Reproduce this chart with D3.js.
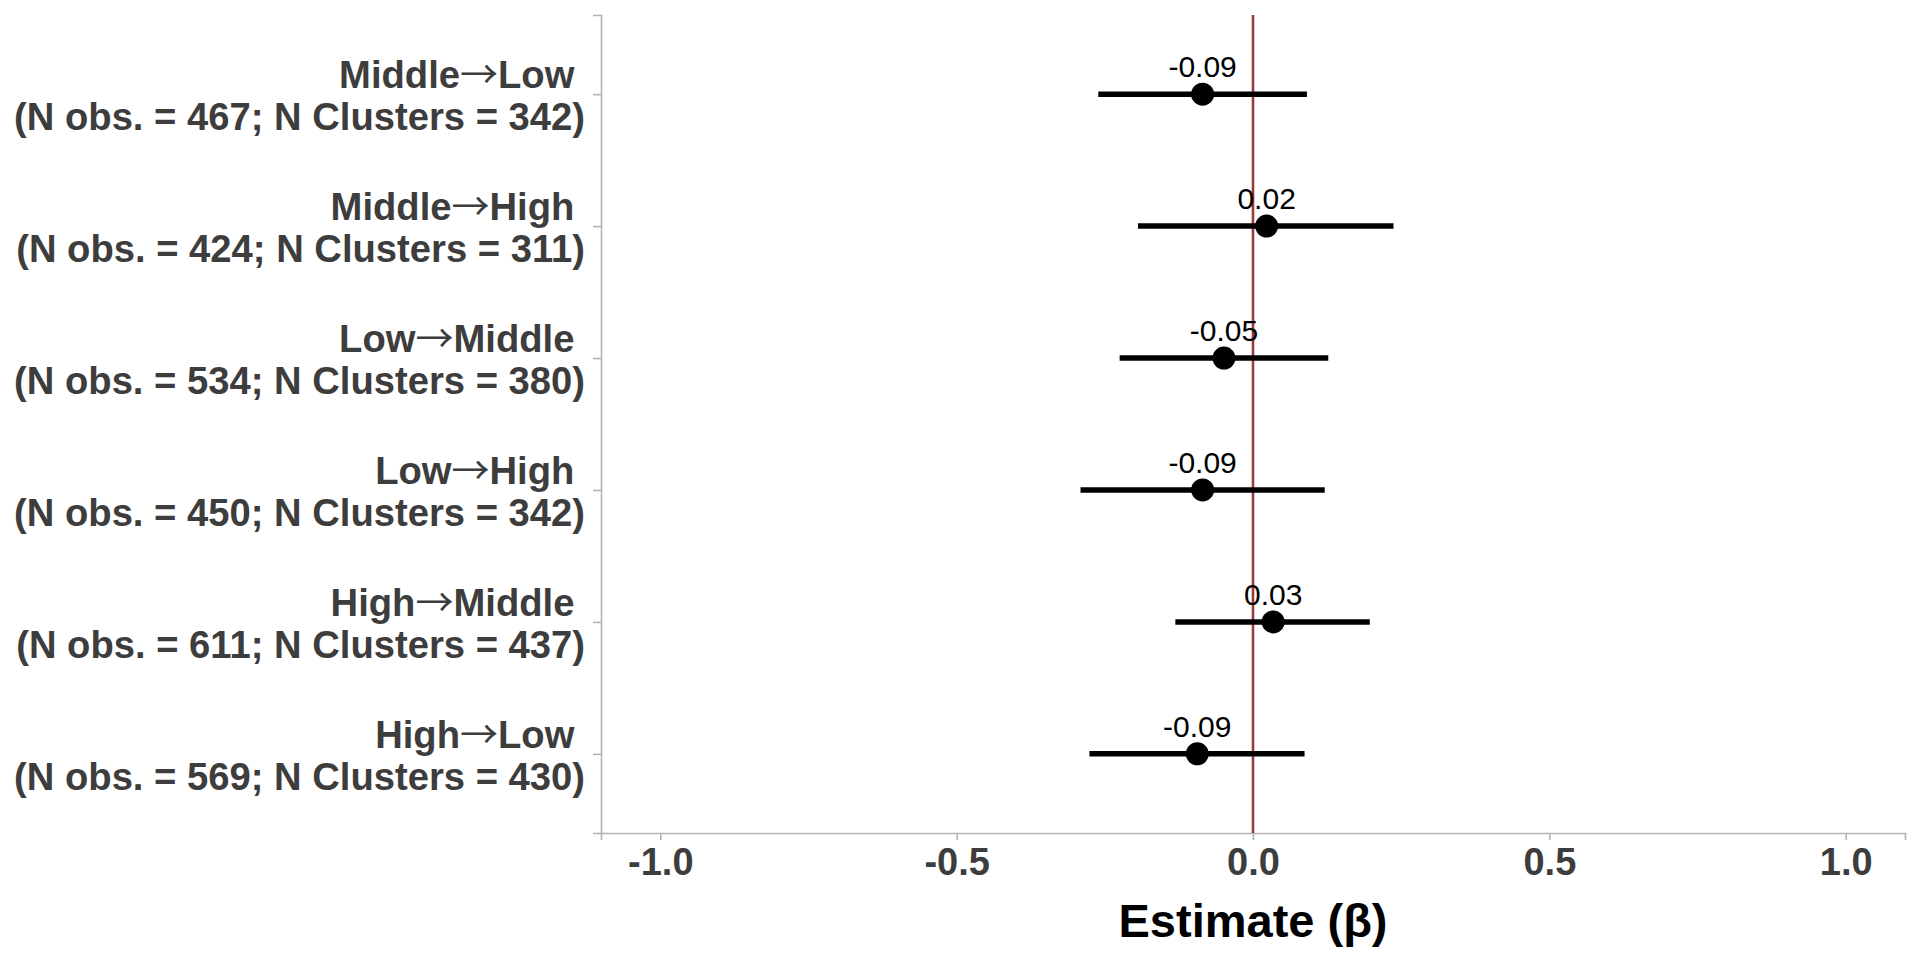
<!DOCTYPE html>
<html>
<head>
<meta charset="utf-8">
<script src="https://cdn.jsdelivr.net/npm/d3@7"></script>
<style>
  html, body { margin: 0; padding: 0; background: #ffffff; }
  svg { display: block; font-family: "Liberation Sans", Arial, sans-serif; }
</style>
</head>
<body>
<svg id="chart" width="1920" height="960"></svg>
<script>
// ---- data ----
const categories = ["Middle→Low", "Middle→High", "Low→Middle", "Low→High", "High→Middle", "High→Low"];
const nObs = [467, 424, 534, 450, 611, 569];
const nClusters = [342, 311, 380, 342, 437, 430];
const estimates = [-0.085, 0.023, -0.049, -0.085, 0.034, -0.094];
const ciLow = [-0.261, -0.194, -0.225, -0.291, -0.131, -0.276];
const ciHigh = [0.091, 0.237, 0.127, 0.121, 0.197, 0.087];
const estLabels = ["-0.09", "0.02", "-0.05", "-0.09", "0.03", "-0.09"];
const xTicks = [-1.0, -0.5, 0.0, 0.5, 1.0];
const xDomain = [-1.1, 1.1];
const refValue = 0;

const rows = categories.map((c, i) => ({
  cat: c, obs: nObs[i], cl: nClusters[i],
  est: estimates[i], lo: ciLow[i], hi: ciHigh[i], lab: estLabels[i]
}));

// ---- layout ----
const panel = { left: 601, right: 1905, top: 15, bottom: 833 };
const svg = d3.select("#chart");

const x = d3.scaleLinear().domain(xDomain).range([panel.left, panel.right]);
const y = d3.scalePoint().domain(categories).range([panel.top, panel.bottom]).padding(0.6);

const axisColor = "#b3b3b3";
const textColor = "#3d3d3d";

// x axis
const gx = svg.append("g")
  .attr("transform", `translate(0,${panel.bottom})`)
  .call(d3.axisBottom(x).tickValues(xTicks).tickSize(7).tickPadding(8)
    .tickFormat(d => d.toFixed(1)));
gx.select(".domain").attr("stroke", axisColor).attr("stroke-width", 1.6);
gx.selectAll(".tick line").attr("stroke", axisColor).attr("stroke-width", 1.6);
gx.selectAll(".tick text")
  .attr("fill", textColor)
  .attr("font-size", 38)
  .attr("font-weight", "bold")
  .attr("font-family", "'Liberation Sans', Arial, sans-serif")
  .attr("dy", "0.71em");

// y axis
const gy = svg.append("g")
  .attr("transform", `translate(${panel.left},0)`)
  .call(d3.axisLeft(y).tickSize(8).tickPadding(8).tickFormat(""));
gy.select(".domain").attr("stroke", axisColor).attr("stroke-width", 1.6);
gy.selectAll(".tick line").attr("stroke", axisColor).attr("stroke-width", 1.6);
gy.selectAll(".tick text").remove();

const yLab = svg.append("g").selectAll("text")
  .data(rows).join("text")
  .attr("text-anchor", "end")
  .attr("fill", textColor)
  .attr("font-size", 38.2)
  .attr("font-weight", "bold")
  .attr("xml:space", "preserve");
const line1 = yLab.append("tspan")
  .attr("x", panel.left - 16)
  .attr("y", d => y(d.cat) - 6);
line1.each(function(d) {
  const parts = d.cat.split("→");
  const t = d3.select(this);
  t.append("tspan").text(parts[0]);
  t.append("tspan")
    .attr("font-family", "'Noto Sans CJK SC', sans-serif")
    .attr("font-weight", "normal")
    .attr("font-size", 38)
    .text("→");
  t.append("tspan").text(parts[1] + " ");
});
yLab.append("tspan")
  .attr("x", panel.left - 16)
  .attr("y", d => y(d.cat) + 36)
  .text(d => `(N obs. = ${d.obs}; N Clusters = ${d.cl})`);

// x title
svg.append("text")
  .attr("x", (panel.left + panel.right) / 2)
  .attr("y", 937)
  .attr("text-anchor", "middle")
  .attr("font-size", 47)
  .attr("font-weight", "bold")
  .attr("fill", "#000000")
  .text("Estimate (β)");

// reference line
svg.append("line")
  .attr("x1", x(refValue)).attr("x2", x(refValue))
  .attr("y1", panel.top).attr("y2", panel.bottom)
  .attr("stroke", "#a0393a").attr("stroke-width", 2.6);

// CI lines
svg.append("g").selectAll("line")
  .data(rows).join("line")
  .attr("x1", d => x(d.lo)).attr("x2", d => x(d.hi))
  .attr("y1", d => y(d.cat)).attr("y2", d => y(d.cat))
  .attr("stroke", "#000000").attr("stroke-width", 5.5);

// points
svg.append("g").selectAll("circle")
  .data(rows).join("circle")
  .attr("cx", d => x(d.est)).attr("cy", d => y(d.cat))
  .attr("r", 11.5).attr("fill", "#000000");

// estimate labels
svg.append("g").selectAll("text")
  .data(rows).join("text")
  .attr("x", d => x(d.est)).attr("y", d => y(d.cat) - 17)
  .attr("text-anchor", "middle")
  .attr("font-size", 30)
  .attr("fill", "#000000")
  .text(d => d.lab);
</script>
</body>
</html>
